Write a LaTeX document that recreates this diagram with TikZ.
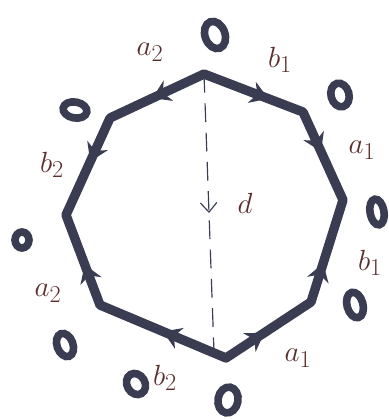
\documentclass[tikz,border=0pt]{standalone}
\usepackage{amsmath}
\usetikzlibrary{arrows.meta, decorations.markings}

\definecolor{inkblue}{HTML}{3A3D52}
\definecolor{inkbrown}{HTML}{5B2E2E}

\tikzset{
    edgeline/.style={line width=8pt, inkblue, line cap=round, line join=round},
    midarrow/.style={postaction={decorate}, decoration={markings,
        mark=at position #1 with {\arrow{Stealth[length=15pt, width=19pt]}}}},
    hole/.style={draw=inkblue, line width=6.5pt},
    lbl/.style={inkbrown, font=\fontsize{29}{29}\selectfont},
}

\begin{document}
\begin{tikzpicture}[x=0.03cm, y=-0.03cm]
    \useasboundingbox (0, 0) rectangle (388, 419);
    \clip (0, 0) rectangle (388, 419);

    % vertices of the octagon
    \coordinate (T)  at (204, 74);
    \coordinate (UR) at (303, 112);
    \coordinate (R)  at (343, 200);
    \coordinate (LR) at (311, 302);
    \coordinate (B)  at (226, 358);
    \coordinate (LL) at (100, 305);
    \coordinate (L)  at (66, 215);
    \coordinate (UL) at (110, 118);
    \coordinate (D)  at (214, 352);

    % sides with their arrows
    \draw[edgeline] (T) -- (UR) -- (R) -- (LR) -- (B) -- (LL) -- (L) -- (UL) -- cycle;
    \foreach \from/\to/\where in {T/UR/0.65, UR/R/0.45, LR/R/0.38, B/LR/0.45,
                                  B/LL/0.5, LL/L/0.45, UL/L/0.45, T/UL/0.55} {
        \path[edgeline, midarrow=\where] (\from) -- (\to);
    }

    % cut line
    \draw[inkblue, line width=1pt, dash pattern=on 16pt off 9pt,
          postaction={decorate}, decoration={markings,
          mark=at position 0.5 with {\arrow{Straight Barb[length=8pt, width=14pt]}}}]
        (T) -- (D);
    \node[lbl] (dlbl) at (245, 203) {$d$};

    % side labels
    \node[lbl] (a2top) at (150, 52)  {$a_2$};
    \node[lbl] (b1top) at (280, 60)  {$b_1$};
    \node[lbl] (a1rgt) at (362, 150) {$a_1$};
    \node[lbl] (b1rgt) at (370, 263) {$b_1$};
    \node[lbl] (a1bot) at (298, 358) {$a_1$};
    \node[lbl] (b2bot) at (165, 378) {$b_2$};
    \node[lbl] (a2lft) at (48, 293)  {$a_2$};
    \node[lbl] (b2lft) at (52, 165)  {$b_2$};

    % small holes round the polygon
    \foreach \x/\y/\rx/\ry/\ang in {215/35/10/14/20, 75/110/12/8/-10, 340/95/9/12/15,
                                    377/212/7/13/10, 22/240/7/8/0, 355/305/8/13/15,
                                    65/345/8/12/20, 136/384/9/11/30, 228/400/10/13/-10} {
        \draw[hole, rotate around={\ang:(\x, \y)}] (\x, \y) ellipse [x radius=\rx, y radius=\ry];
    }
\end{tikzpicture}
\end{document}
